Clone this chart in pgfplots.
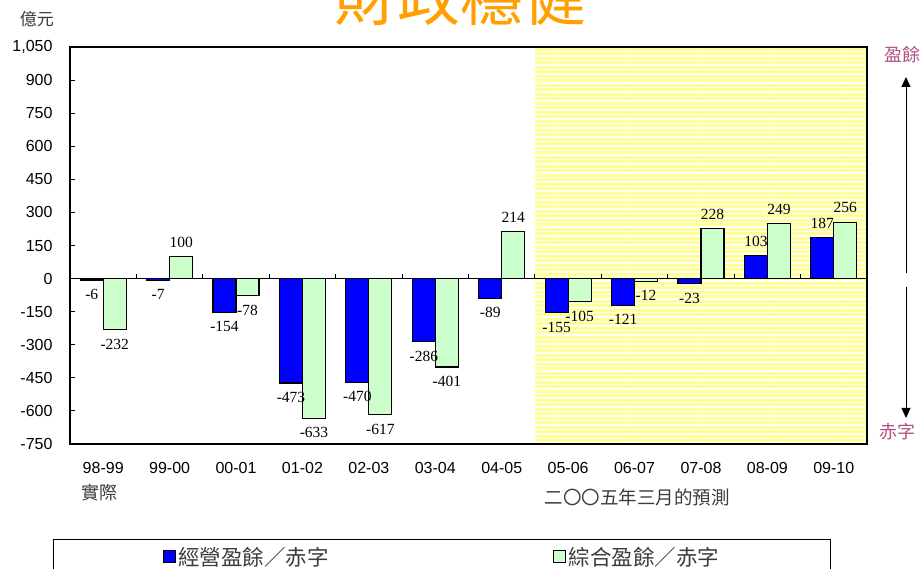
\documentclass[border=0pt]{standalone}
\usepackage{pgfplots}
\pgfplotsset{compat=1.18}
\usetikzlibrary{patterns.meta,arrows.meta}
\usepackage{fontspec}
\setmainfont{Liberation Sans}
\newfontfamily\cjk{Noto Sans CJK TC}
\newfontfamily\timesf{Liberation Serif}

\definecolor{barblue}{RGB}{0,0,255}
\definecolor{bargreen}{RGB}{204,255,204}
\definecolor{fcyellow}{RGB}{255,255,153}
\definecolor{titleorange}{RGB}{255,160,0}
\definecolor{mauve}{RGB}{176,80,128}
\definecolor{txtgray}{RGB}{60,60,60}

% 經營盈餘／赤字 (operating) and 綜合盈餘／赤字 (consolidated), HK$ 億元
\pgfplotstableread{
x  op    cons
0  -6    -232
1  -7    100
2  -154  -78
3  -473  -633
4  -470  -617
5  -286  -401
6  -89   214
7  -155  -105
8  -121  -12
9  -23   228
10 103   249
11 187   256
}\fiscal

\begin{document}
\begin{tikzpicture}
\begin{axis}[
    at={(0,0)}, anchor=south west,
    scale only axis,
    width=797pt, height=397pt,
    ybar=0pt, bar width=23pt,
    xmin=-0.5, xmax=11.5,
    ymin=-750, ymax=1050,
    enlargelimits=false,
    ytick={-750,-600,...,1050},
    scaled y ticks=false,
    xtick={0,...,11},
    xticklabels={98-99,99-00,00-01,01-02,02-03,03-04,04-05,05-06,06-07,07-08,08-09,09-10},
    /pgf/number format/assume math mode=true,
    ticklabel style={font=\fontsize{16}{18}\selectfont, black},
    yticklabel style={xshift=-14pt},
    xticklabel style={yshift=-15pt},
    tick align=inside,
    ytick pos=left,
    major tick length=5pt,
    xtick style={draw=none},
    ytick style={line width=1pt, black},
    axis line style={line width=1.4pt, black},
    axis on top,
    clip=false,
    nodes near coords,
    every node near coord/.append style={font=\timesf\fontsize{15.5}{17}\selectfont, black, inner sep=8.5pt},
    legend columns=2,
    legend image code/.code={\draw[#1, line width=1pt] (0pt,-6pt) rectangle (12pt,6pt);},
    legend style={
        at={(axis description cs:-0.0213,-0.2393)}, anchor=north west,
        font=\cjk\fontsize{21.5}{24}\selectfont,
        text=txtgray,
        draw=black, line width=1pt,
        inner xsep=109pt, inner ysep=5pt,
        nodes={inner sep=2.5pt},
        /tikz/every even column/.append style={column sep=222pt},
    },
]
% forecast period background
\fill[fcyellow] (axis cs:6.5,-750) rectangle (axis cs:11.5,1050);
\fill[pattern={Lines[angle=0,distance=4.5pt,line width=1.2pt]}, pattern color=white]
    (axis cs:6.5,-750) rectangle (axis cs:11.5,1050);

\addplot[draw=black, line width=1.2pt, fill=barblue] table[x=x, y=op] {\fiscal};
\addplot[draw=black, line width=1.2pt, fill=bargreen] table[x=x, y=cons] {\fiscal};

% zero line with category separators
\draw[line width=1.6pt] (axis cs:-0.5,0) -- (axis cs:11.5,0);
\pgfplotsinvokeforeach{0.5,1.5,2.5,3.5,4.5,5.5,6.5,7.5,8.5,9.5,10.5}{
    \draw[line width=1pt] (axis cs:#1,0) -- ++(0pt,5pt);
}
\legend{經營盈餘／赤字, 綜合盈餘／赤字}
\end{axis}

\node[text=titleorange, font=\cjk\fontsize{63}{63}\selectfont, anchor=base, inner sep=0pt] at (390pt,423pt) {財政穩健};
\node[text=txtgray, font=\cjk\fontsize{17}{19}\selectfont] at (-33pt,425pt) {億元};
\node[text=txtgray, font=\cjk\fontsize{18}{20}\selectfont] at (30pt,-49pt) {實際};
\node[text=txtgray, font=\cjk\fontsize{18.5}{20}\selectfont] at (567pt,-53pt) {二〇〇五年三月的預測};
\node[text=mauve, font=\cjk\fontsize{18}{20}\selectfont] at (832pt,389pt) {盈餘};
\node[text=mauve, font=\cjk\fontsize{18}{20}\selectfont] at (827pt,12pt) {赤字};
\draw[line width=1pt, -{Triangle[length=10pt,width=9pt]}] (836pt,171pt) -- (836pt,367pt);
\draw[line width=1pt, -{Triangle[length=10pt,width=9pt]}] (836pt,157pt) -- (836pt,26pt);

\pgfresetboundingbox
\useasboundingbox (-70pt,-125pt) rectangle (851pt,444pt);
\end{tikzpicture}
\end{document}
